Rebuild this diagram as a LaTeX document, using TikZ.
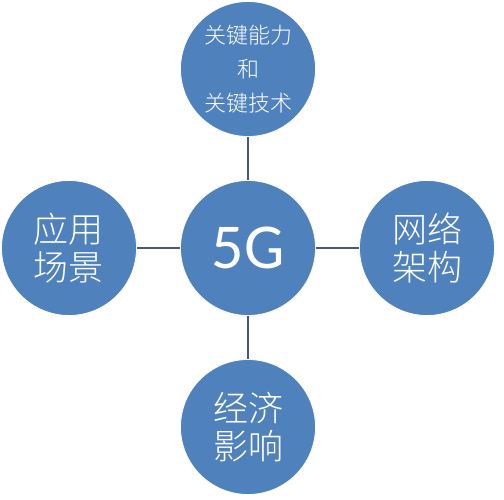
\documentclass[tikz,border=0pt]{standalone}
\usepackage{fontspec}
\newfontfamily\cjk{Noto Sans CJK SC Light}
\newfontfamily\latinf{Carlito}
\definecolor{ballblue}{HTML}{4F81BD}
\definecolor{linkgray}{HTML}{4A5A6E}
\begin{document}
\begin{tikzpicture}[x=1pt,y=-1pt,
  ball/.style={circle,fill=ballblue,draw=white,line width=0.8pt,minimum size=135pt,inner sep=0pt,text=white,align=center},
  link/.style={draw=linkgray,line width=1.8pt}]
\useasboundingbox (0,0) rectangle (504,500);
\node[ball,font=\cjk\fontsize{22}{34}\selectfont] (top) at (248,69) {关键能力\\和\\关键技术};
\node[ball,font=\latinf\fontsize{64}{64}\selectfont] (mid) at (248,248) {5G};
\node[ball,font=\cjk\fontsize{35}{38}\selectfont] (left) at (69,248) {应用\\场景};
\node[ball,font=\cjk\fontsize{35}{38}\selectfont] (right) at (427,248) {网络\\架构};
\node[ball,font=\cjk\fontsize{35}{38}\selectfont] (bot) at (248,427) {经济\\影响};
\draw[link] (top) -- (mid);
\draw[link] (mid) -- (bot);
\draw[link] (left) -- (mid);
\draw[link] (mid) -- (right);
\end{tikzpicture}
\end{document}
